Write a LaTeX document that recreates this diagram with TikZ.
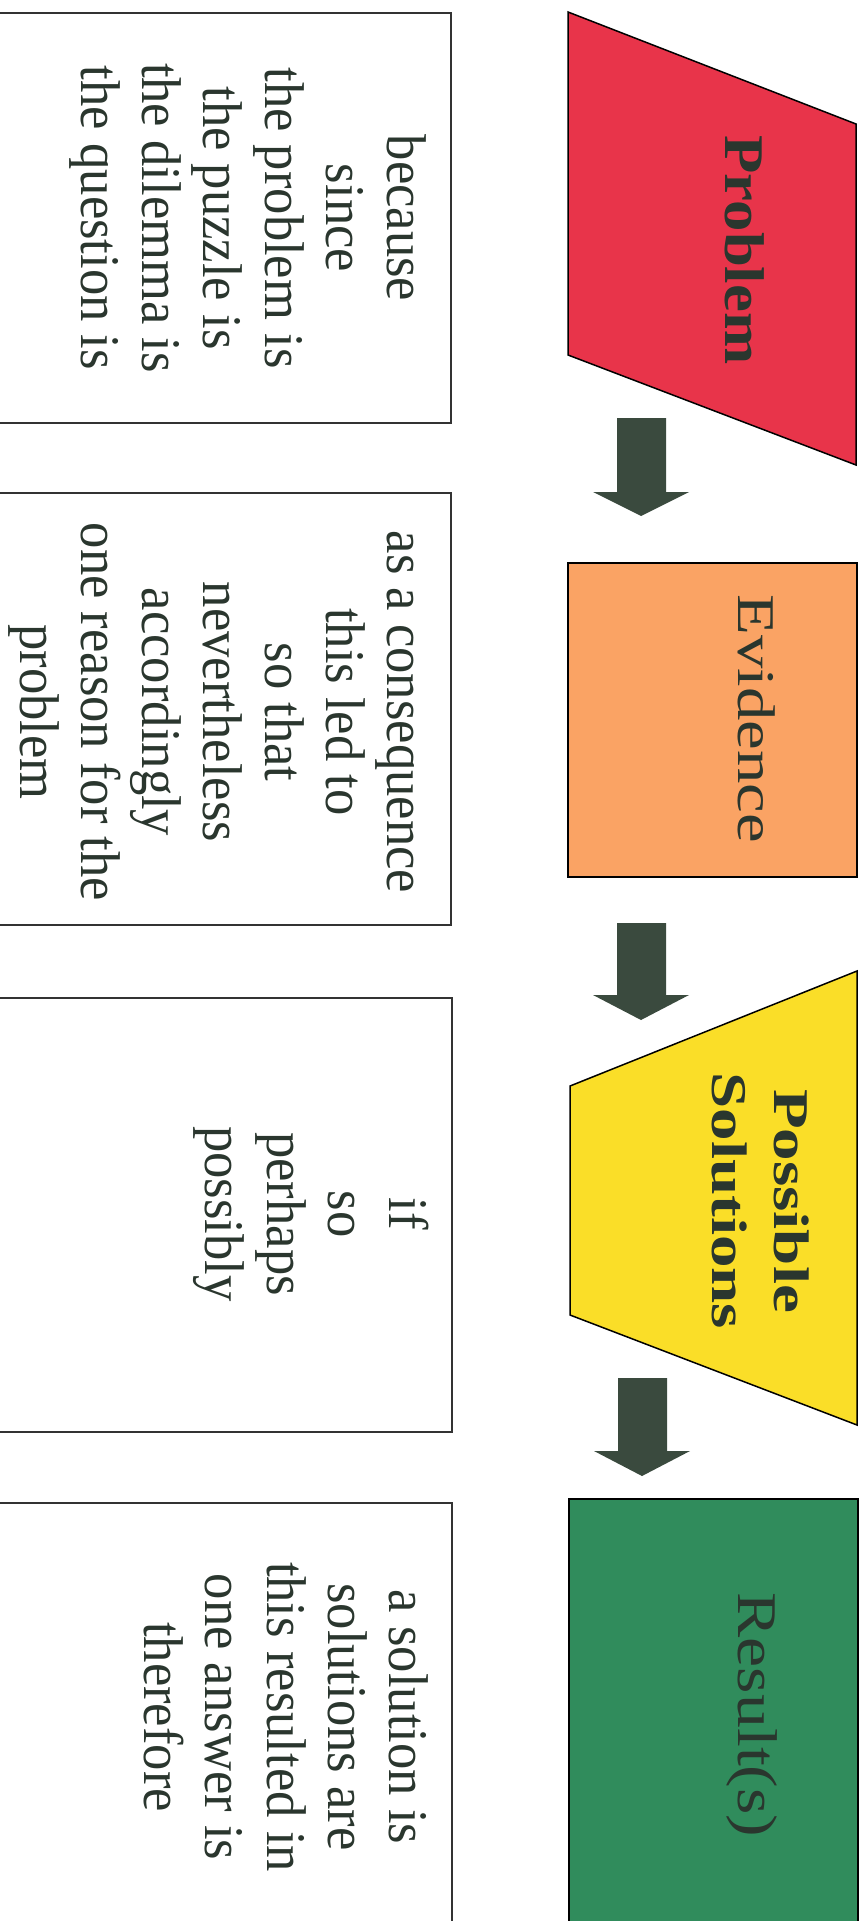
\documentclass[tikz,border=0pt]{standalone}
\usepackage{fontspec}
\setmainfont{Liberation Serif}
\newfontfamily\bodyserif[FakeStretch=0.94]{Liberation Serif}
\usepackage{graphicx}
\definecolor{probred}{RGB}{232,52,74}
\definecolor{evorange}{RGB}{250,163,100}
\definecolor{solyellow}{RGB}{250,222,40}
\definecolor{resgreen}{RGB}{48,140,92}
\definecolor{arrowcol}{RGB}{58,74,62}
\definecolor{txtcol}{RGB}{42,54,46}
\tikzset{
  shapeline/.style={draw=black, line width=1.5pt},
  bodybox/.style={draw=black!80, line width=1.5pt},
  bodytext/.style={rotate=-90, anchor=north, inner sep=0pt, align=center, text=txtcol,
    font=\bodyserif\fontsize{56}{61.3}\selectfont},
  headtext/.style={rotate=-90, inner sep=0pt, text=txtcol},
  blockarrow/.style={fill=arrowcol, draw=none}
}
\begin{document}
\begin{tikzpicture}[x=1pt,y=-1pt]
\useasboundingbox (0,0) rectangle (866,1921);
% coloured shapes
\filldraw[shapeline, fill=probred] (568,12) -- (856,124) -- (856,465) -- (568,355) -- cycle;
\filldraw[shapeline, fill=evorange] (568,563) rectangle (857,877);
\filldraw[shapeline, fill=solyellow] (857,971) -- (570,1086) -- (570,1315) -- (857,1425) -- cycle;
\filldraw[shapeline, fill=resgreen] (569,1499) rectangle (858,1935);
% headings
\node[headtext, anchor=base, font=\bfseries\fontsize{56}{60}\selectfont] (problem) at (725,250) {\scalebox{1.12}[1]{Problem}};
\node[headtext, anchor=base, font=\fontsize{53}{60}\selectfont] (evidence) at (738,719) {\scalebox{1.26}[1]{Evidence}};
\node[headtext, anchor=center, align=center, font=\bfseries\fontsize{50}{62}\selectfont] (solutions) at (761,1201) {\scalebox{1.3}[1]{Possible}\\\scalebox{1.3}[1]{Solutions}};
\node[headtext, anchor=base, font=\fontsize{56}{60}\selectfont] (result) at (738,1715) {\scalebox{1.21}[1]{Result(s)}};
% block arrows
\fill[blockarrow] (617,418) -- (666,418) -- (666,492) -- (689,492) -- (641,516) -- (593,492) -- (617,492) -- cycle;
\fill[blockarrow] (617,923) -- (666,923) -- (666,995) -- (689,995) -- (641,1020) -- (593,995) -- (617,995) -- cycle;
\fill[blockarrow] (618,1378) -- (667,1378) -- (667,1451) -- (690,1451) -- (642,1476) -- (594,1451) -- (618,1451) -- cycle;
% text boxes
\draw[bodybox] (-5,13) rectangle (451,423);
\draw[bodybox] (-5,493) rectangle (451,925);
\draw[bodybox] (-5,998) rectangle (452,1432);
\draw[bodybox] (-5,1503) rectangle (452,1935);
\node[bodytext] (t1) at (431,218) {\strut because\\since\\the problem is\\the puzzle is\\the dilemma is\\the question is};
\node[bodytext] (t2) at (431,712) {\strut as a consequence\\this led to\\so that\\nevertheless\\accordingly\\one reason for the\\problem};
\node[bodytext] (t3) at (433,1214) {\strut if\\so\\perhaps\\possibly};
\node[bodytext] (t4) at (433,1717) {\strut a solution is\\solutions are\\this resulted in\\one answer is\\therefore};
\end{tikzpicture}
\end{document}
